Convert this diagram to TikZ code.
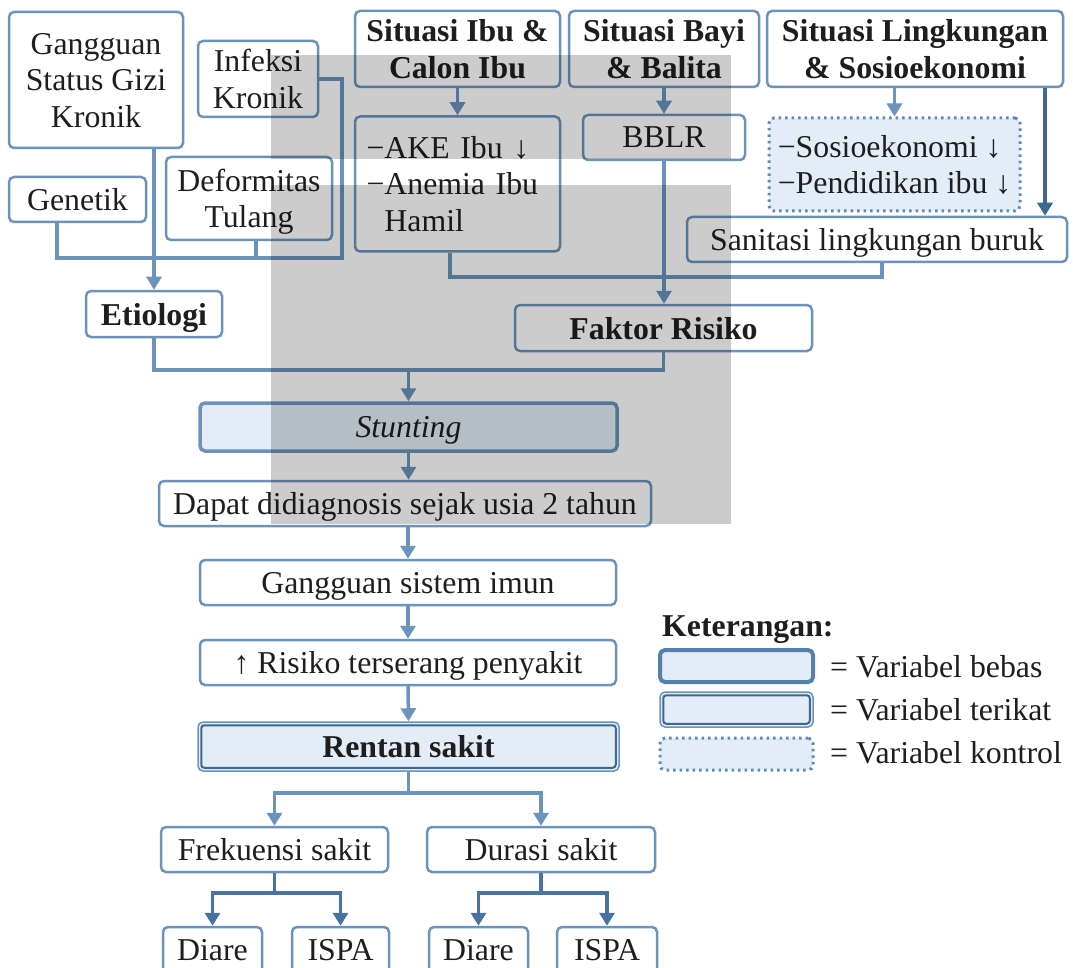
\documentclass[tikz,border=0pt]{standalone}
\usepackage{fontspec}
\setmainfont{Liberation Serif}
\usetikzlibrary{arrows.meta,calc}
\definecolor{lb}{HTML}{6B93BC}
\definecolor{db}{HTML}{3E6891}
\definecolor{mb}{HTML}{4673A0}
\definecolor{lgb}{HTML}{5580AD}
\definecolor{dotc}{HTML}{5F8AB5}
\definecolor{fillb}{HTML}{E3EDF7}
\definecolor{txt}{HTML}{1E1E1E}
\begin{document}
\begin{tikzpicture}[x=1pt,y=-1pt,
  every node/.style={font=\fontsize{31.8}{36.5}\selectfont, text=txt, inner sep=0pt},
  wh/.style 2 args={minimum width=#1pt, minimum height=#2pt},
  bx/.style={draw=lb, line width=2.5pt, rounded corners=5pt, align=center},
  box/.style={bx, text depth=0pt},
  bebas/.style={box, line width=3.5pt, fill=fillb},
  terikat/.style={box, line width=1.5pt, fill=fillb},
  kontrol/.style={box, draw=dotc, line width=3pt, dash pattern=on 2.5pt off 4pt, fill=fillb},
  ln/.style={draw=lb, line width=3.5pt},
  arr/.style={ln, -{Triangle[width=15pt,length=13pt]}},
  inner/.style={db, line width=2pt, rounded corners=3pt},
  legtxt/.style={anchor=west}
]
\useasboundingbox (0,0) rectangle (1073,968);
\clip (0,0) rectangle (1073,968);

% top-left cluster
\node[box, wh={174}{136}] (gsg) at (96,80) {Gangguan\\Status Gizi\\Kronik};
\node[box, wh={120}{76}] (inf) at (258,79) {Infeksi\\Kronik};
\node[box, wh={137}{45}] (gen) at (77.5,199.5) {Genetik};
\node[box, wh={166}{83}] (def) at (249,198.5) {Deformitas\\Tulang};

% top-right headers
\node[box, wh={205}{76}] (sib) at (457.5,49) {\textbf{Situasi Ibu \&}\\\textbf{Calon Ibu}};
\node[box, wh={190}{76}] (sba) at (664,49) {\textbf{Situasi Bayi}\\\textbf{\& Balita}};
\node[box, wh={296}{76}] (sli) at (915,49) {\textbf{Situasi Lingkungan}\\\textbf{\& Sosioekonomi}};

\node[bx, wh={205}{135}, align=left, text width=182pt] (ake) at (457.5,184)
  {−AKE Ibu ↓\\\makebox[182pt][s]{−Anemia Ibu}\\\phantom{−}Hamil};
\node[box, wh={162}{45}] (bblr) at (664,137.5) {BBLR};
\node[kontrol, wh={251}{93}, align=left] (sos) at (894.5,164.5)
  {−Sosioekonomi ↓\\−Pendidikan ibu ↓};
\node[box, wh={380}{45}] (san) at (877,239.5) {Sanitasi lingkungan buruk};

\node[box, wh={136}{46}] (eti) at (154,314) {\textbf{Etiologi}};
\node[box, wh={297}{46}] (fak) at (663.5,328) {\textbf{Faktor Risiko}};

\node[bebas, wh={417}{48}] (stu) at (408.5,427) {\textit{Stunting}};
\node[box, wh={492}{45}] (dap) at (405,503.5) {Dapat didiagnosis sejak usia 2 tahun};
\node[box, wh={416}{45}] (gsi) at (408,582.5) {Gangguan sistem imun};
\node[box, wh={416}{45}] (ris) at (408,662.5) {↑ Risiko terserang penyakit};
\node[terikat, wh={421}{49}] (ren) at (408.5,746.5) {\textbf{Rentan sakit}};
\draw[inner] ([xshift=4pt,yshift=-4pt]ren.north west) rectangle ([xshift=-4pt,yshift=4pt]ren.south east);

\node[box, wh={227}{45}] (fre) at (274.5,849.5) {Frekuensi sakit};
\node[box, wh={228}{45}] (dur) at (541,849.5) {Durasi sakit};
\node[box, wh={99}{46}] (d1) at (212.5,950) {Diare};
\node[box, wh={97}{46}] (i1) at (340.5,950) {ISPA};
\node[box, wh={99}{46}] (d2) at (478.5,950) {Diare};
\node[box, wh={100}{46}] (i2) at (607,950) {ISPA};

% legend
\node[legtxt] (ket) at (662,630) {\textbf{Keterangan:}};
\node[bebas, draw=lgb, line width=4pt, wh={153}{32}] (l1) at (736.5,666) {};
\node[terikat, wh={153}{35}] (l2) at (736.5,709.5) {};
\draw[inner] ([xshift=4pt,yshift=-4pt]l2.north west) rectangle ([xshift=-4pt,yshift=4pt]l2.south east);
\node[kontrol, wh={153}{32}] (l3) at (736.5,754) {};
\node[legtxt] (t1) at (830,667) {= Variabel bebas};
\node[legtxt] (t2) at (830,710) {= Variabel terikat};
\node[legtxt] (t3) at (830,753) {= Variabel kontrol};

% connectors: etiologi side
\coordinate (hL) at (57,258);
\coordinate (hR) at (342,258);
\draw[ln] (gen.south -| hL) -- (hL) -- (hR) -- (hR |- inf.east) -- (inf.east);
\draw[ln] ([xshift=7pt]def.south) -- ([xshift=7pt]def.south |- hL);
\draw[arr] (gsg.south -| eti.north) -- (eti.north);

% connectors: risk side
\draw[arr] (sib.south) -- (ake.north);
\draw[arr] (sba.south) -- (bblr.north);
\draw[arr] (sli.south -| sos.north) -- (sos.north);
\coordinate (rx) at (1045,0);
\draw[arr, draw=db] (sli.south -| rx) -- (san.north -| rx);
\coordinate (hbL) at (450,277);
\coordinate (hbR) at (882,277);
\draw[ln] (ake.south -| hbL) -- (hbL) -- (hbR) -- (san.south -| hbR);
\draw[arr] (bblr.south) -- (bblr.south |- fak.north);

% to stunting
\coordinate (hc) at (0,370);
\draw[ln] (eti.south) -- (eti.south |- hc) -- (fak.south |- hc) -- (fak.south);
\draw[arr] (stu.north |- hc) -- (stu.north);
\draw[arr] (stu.south) -- (stu.south |- dap.north);
\draw[arr] (gsi.north |- dap.south) -- (gsi.north);
\draw[arr] (gsi.south) -- (ris.north);
\draw[arr] (ris.south) -- (ren.north);

% bottom tree
\coordinate (hd) at (0,793);
\draw[arr] (ren.south) -- (ren.south |- hd) -- (fre.north |- hd) -- (fre.north);
\draw[arr] (ren.south |- hd) -- (dur.north |- hd) -- (dur.north);
\coordinate (he) at (0,893);
\draw[arr, draw=mb] (fre.south) -- (fre.south |- he) -- (d1.north |- he) -- (d1.north);
\draw[arr, draw=mb] (fre.south |- he) -- (i1.north |- he) -- (i1.north);
\draw[arr, draw=mb] (dur.south) -- (dur.south |- he) -- (d2.north |- he) -- (d2.north);
\draw[arr, draw=mb] (dur.south |- he) -- (i2.north |- he) -- (i2.north);

% grey watermark panel
\fill[black, opacity=0.2] (271,55) rectangle (731,159);
\fill[black, opacity=0.2] (271,185) rectangle (731,524);
\end{tikzpicture}
\end{document}
